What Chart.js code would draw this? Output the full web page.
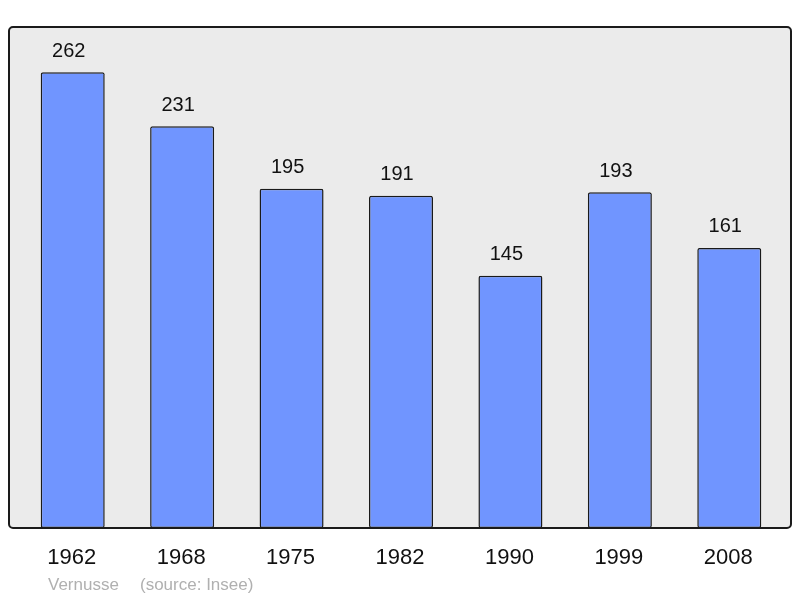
<!DOCTYPE html>
<html>
<head>
<meta charset="utf-8">
<script src="https://cdn.jsdelivr.net/npm/chart.js@4"></script>
<style>
  html, body { margin: 0; padding: 0; background: #fff; }
  #wrap { width: 800px; height: 598px; }
</style>
</head>
<body>
<div id="wrap"><canvas id="chart" width="800" height="598"></canvas></div>
<script>
// Population of Vernusse, by census year (source: Insee)
const years = ["1962", "1968", "1975", "1982", "1990", "1999", "2008"]
const population = [262, 231, 195, 191, 145, 193, 161]
const footerPlace = "Vernusse"
const footerSource = "(source: Insee)"

const FONT = "'Liberation Sans', Arial, sans-serif"

// grey panel with a dark rounded frame behind the bars
const framePlugin = {
  id: "frame",
  beforeDatasetsDraw(chart) {
    const { ctx, chartArea } = chart
    const x = chartArea.left - 9
    const y = chartArea.top
    const w = chartArea.right + 7 - x
    const h = chartArea.bottom - y
    ctx.save()
    ctx.beginPath()
    ctx.roundRect(x, y, w, h, 4)
    ctx.fillStyle = "#ebebeb"
    ctx.fill()
    ctx.restore()
  },
  afterDatasetsDraw(chart) {
    const { ctx, chartArea } = chart
    const x = chartArea.left - 9
    const y = chartArea.top
    const w = chartArea.right + 7 - x
    const h = chartArea.bottom - y
    ctx.save()
    ctx.beginPath()
    ctx.roundRect(x, y, w, h, 4)
    ctx.lineWidth = 2
    ctx.strokeStyle = "#1a1a1a"
    ctx.stroke()
    ctx.restore()
  }
}

// value over each bar, year under each bar, footer line
const labelsPlugin = {
  id: "labels",
  afterDraw(chart) {
    const { ctx, chartArea } = chart
    const xScale = chart.scales.x
    const yScale = chart.scales.y
    ctx.save()
    ctx.textAlign = "center"
    ctx.textBaseline = "middle"
    ctx.fillStyle = "#111"

    ctx.font = `20px ${FONT}`
    population.forEach((v, i) => {
      const px = xScale.getPixelForValue(i)
      const py = yScale.getPixelForValue(v)
      ctx.fillText(String(v), px - 4, py - 21)
    })

    ctx.font = `22px ${FONT}`
    years.forEach((yr, i) => {
      ctx.fillText(yr, xScale.getPixelForValue(i) - 1, chartArea.bottom + 30)
    })

    ctx.textAlign = "left"
    ctx.fillStyle = "#b0b0b0"
    ctx.font = `17px ${FONT}`
    ctx.fillText(footerPlace, 48, chartArea.bottom + 57)
    ctx.fillText(footerSource, 140, chartArea.bottom + 57)
    ctx.restore()
  }
}

new Chart(document.getElementById("chart"), {
  type: "bar",
  data: {
    labels: years,
    datasets: [{
      data: population,
      backgroundColor: "#7095ff",
      borderColor: "#1a1a1a",
      borderWidth: 1.5,
      borderRadius: 2,
      borderSkipped: false,
      barPercentage: 0.585,
      categoryPercentage: 1
    }]
  },
  options: {
    responsive: false,
    animation: false,
    layout: { padding: { left: 18, right: 16, top: 27, bottom: 70 } },
    scales: {
      x: { display: false },
      y: { display: false, min: 0, max: 288 }
    },
    plugins: {
      legend: { display: false },
      tooltip: { enabled: false }
    }
  },
  plugins: [framePlugin, labelsPlugin]
})
</script>
</body>
</html>
